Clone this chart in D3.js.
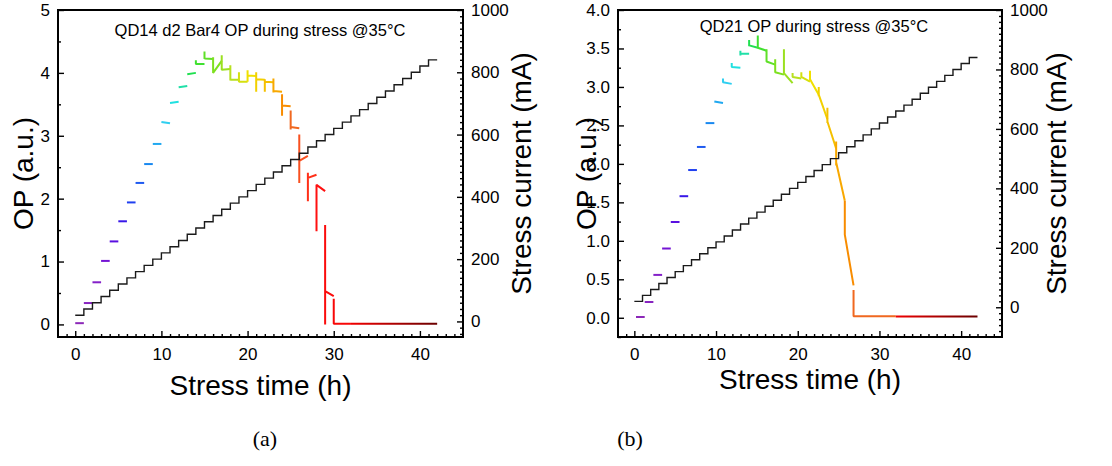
<!DOCTYPE html>
<html>
<head>
<meta charset="utf-8">
<script src="https://cdn.jsdelivr.net/npm/d3@7/dist/d3.min.js"></script>
<style>
  html, body { margin: 0; padding: 0; background: #fff; }
  svg text { font-family: "Liberation Sans", Arial, Helvetica, sans-serif; fill: #000; }
  svg text.caption { font-family: "Liberation Serif", "Times New Roman", serif; }
</style>
</head>
<body>
<svg id="fig" width="1112" height="466"></svg>
<script>
// Stress schedule: the drive current is raised by one step every hour
const stepHours   = [0,1,2,3,4,5,6,7,8,9,10,11,12,13,14,15,16,17,18,19,20,
                     21,22,23,24,25,26,27,28,29,30,31,32,33,34,35,36,37,38,39,40,41];
const stepCurrent = [20,40,60,80,100,120,140,160,180,200,220,240,260,280,300,320,340,360,380,400,420,
                     440,460,480,500,520,540,560,580,600,620,640,660,680,700,720,740,760,780,800,820,840];
const scheduleEnd = 42;

// (a) QD14 d2 Bar4 — optical power at each current step
// a step starts at hour h; optional jump spikeHi→spikeLo at the step, then opStart→opEnd until the next step
const hoursA   = [0,1,2,3,4,5,6,7,8,9,10,11,12,13,14,15,16,17,18,19,20,21,22,23,24,25,26,27,28,29,30];
const spikeHiA = [null,null,null,null,null,null,null,null,null,null,null,null,null,null,
                  4.20,4.34,4.25,4.28,4.12,4.01,4.04,4.01,3.90,3.91,3.66,3.40,3.02,2.41,2.22,1.58,0.41];
const spikeLoA = [null,null,null,null,null,null,null,null,null,null,null,null,null,null,
                  4.14,4.22,4.00,4.05,3.88,3.85,3.86,3.70,3.70,3.69,3.32,3.10,2.25,1.96,1.48,0.00,0.01];
const opStartA = [0.02,0.34,0.67,1.01,1.32,1.64,1.94,2.25,2.55,2.87,3.22,3.52,3.77,3.98,
                  4.14,4.23,4.00,4.05,3.89,3.86,3.96,3.90,3.86,3.71,3.48,3.14,2.60,2.33,2.22,0.53,0.01];
const opEndA   = [0.02,0.34,0.67,1.01,1.32,1.64,1.94,2.25,2.55,2.87,3.20,3.54,3.79,4.00,
                  4.14,4.22,4.19,4.06,3.89,3.86,3.95,3.89,3.85,3.70,3.47,3.12,2.68,2.38,2.12,0.45,0.01];
const tailHoursA = [32, 42];
const tailOpA    = [0.01, 0.01];

// (b) QD21 — optical power at each current step (logged start times, h)
const hoursB   = [0.2,1.27,2.33,3.4,4.46,5.53,6.59,7.66,8.72,9.79,10.85,11.92,12.98,14.05,15.11,
                  16.18,17.24,18.31,19.37,20.44,21.5,22.57,23.63,24.7,25.76,26.83];
const spikeHiB = [null,null,null,null,null,null,null,null,null,null,
                  3.11,3.31,3.47,3.61,3.67,3.49,3.36,3.49,3.18,3.19,3.21,3.00,2.73,2.29,1.52,0.36];
const spikeLoB = [null,null,null,null,null,null,null,null,null,null,
                  3.06,3.26,3.41,3.53,3.51,3.34,3.19,3.17,3.13,3.13,3.07,2.88,2.53,1.98,1.08,0.02];
const opStartB = [0.01,0.205,0.557,0.90,1.245,1.58,1.92,2.22,2.53,2.81,
                  3.06,3.26,3.43,3.54,3.51,3.33,3.19,3.18,3.13,3.13,3.10,2.90,2.55,2.02,1.08,0.02];
const opEndB   = [0.01,0.205,0.557,0.90,1.245,1.58,1.92,2.22,2.53,2.79,
                  3.04,3.25,3.43,3.51,3.47,3.29,3.16,3.05,3.11,3.07,2.90,2.58,2.20,1.52,0.42,0.02];
const tailHoursB = [32, 42];
const tailOpB    = [0.015, 0.015];

// Rainbow colour key by step number (one step per hour), shared by both panels
const keySteps   = [0, 2, 3, 4, 5, 6, 7, 8, 9, 10, 11, 12, 13, 14, 16, 18, 20, 22, 23, 24, 25, 26, 27, 28, 32, 42];
const keyColours = ["#8c28b8","#8420c8","#7414d4","#5a10e0","#3818e8","#2040f0","#1e5af0","#1888f0",
                    "#20a8f0","#30cff0","#20e0e0","#20e0a8","#20e050","#40e030","#7ee020","#b8e020",
                    "#f0e000","#f4c000","#f8a800","#f88c00","#f06820","#f85020","#ff3018","#ff1010",
                    "#f00000","#6a0000"];

// Axis ticks and labels
const timeTicks    = [0, 10, 20, 30, 40];
const opTicksA     = [0, 1, 2, 3, 4, 5];
const opTicksB     = [0.0, 0.5, 1.0, 1.5, 2.0, 2.5, 3.0, 3.5, 4.0];
const currentTicks = [0, 200, 400, 600, 800, 1000];

const colour = d3.scaleLinear().domain(keySteps).range(keyColours).interpolate(d3.interpolateRgb);
const svg = d3.select("#fig");
const defs = svg.append("defs");

function drawPanel(p) {
  const g = svg.append("g");
  const x  = d3.scaleLinear().domain([-2, 45]).range([p.left, p.right]);
  const y  = d3.scaleLinear().domain(p.opDomain).range([p.bottom, p.top]);
  const yc = d3.scaleLinear().domain(p.curDomain).range([p.bottom, p.top]);
  const line = d3.line().x(d => x(d[0])).y(d => y(d[1]));

  // optical power, one path per current step, coloured by step number
  const segs = p.hours.map((h, i) => {
    const tEnd = i < p.hours.length - 1 ? p.hours[i + 1] : p.tailHours[0];
    const pts = [];
    if (p.hi[i] != null) pts.push([h, p.hi[i]], [h, p.lo[i]]);
    pts.push([h, p.start[i]], [tEnd, p.end[i]]);
    return { step: i, pts };
  });
  g.append("g").selectAll("path").data(segs).join("path")
    .attr("d", d => line(d.pts))
    .attr("fill", "none")
    .attr("stroke", d => colour(d.step))
    .attr("stroke-width", 2)
    .attr("stroke-linejoin", "bevel");

  // long flat tail after failure, shaded along time
  const gradId = "tail-" + p.id;
  const grad = defs.append("linearGradient").attr("id", gradId)
    .attr("gradientUnits", "userSpaceOnUse")
    .attr("x1", x(p.tailHours[0])).attr("x2", x(p.tailHours[1]))
    .attr("y1", 0).attr("y2", 0);
  d3.range(0, 1.0001, 0.1).forEach(f => {
    grad.append("stop").attr("offset", f)
      .attr("stop-color", colour(p.tailHours[0] + f * (p.tailHours[1] - p.tailHours[0])));
  });
  g.append("path")
    .attr("d", line(p.tailHours.map((t, i) => [t, p.tailOp[i]])))
    .attr("fill", "none").attr("stroke", `url(#${gradId})`).attr("stroke-width", 2);

  // stress current staircase (right axis)
  const cur = stepHours.map((t, i) => [t, stepCurrent[i]]);
  cur.push([scheduleEnd, stepCurrent[stepCurrent.length - 1]]);
  g.append("path")
    .attr("d", d3.line().x(d => x(d[0])).y(d => yc(d[1])).curve(d3.curveStepAfter)(cur))
    .attr("fill", "none").attr("stroke", "#1a1a1a").attr("stroke-width", 1.4);

  // axes (ticks point into the plot)
  const styleAxis = s => {
    s.select(".domain").remove();
    s.attr("font-size", 17).attr("font-family", null);
    s.selectAll("line").attr("stroke", "#000").attr("stroke-width", 1.4);
  };
  const minorX = d3.range(-1, 45, 1).filter(v => v % 10 !== 0);
  g.append("g").attr("transform", `translate(0,${p.bottom})`)
    .call(d3.axisBottom(x).tickValues(minorX).tickSize(-3).tickFormat("")).call(styleAxis);
  g.append("g").attr("transform", `translate(0,${p.bottom})`)
    .call(d3.axisBottom(x).tickValues(timeTicks).tickSize(-6).tickPadding(11).tickFormat(d3.format("d")))
    .call(styleAxis);

  g.append("g").attr("transform", `translate(${p.left},0)`)
    .call(d3.axisLeft(y).tickValues(p.opMinor).tickSize(-3).tickFormat("")).call(styleAxis);
  g.append("g").attr("transform", `translate(${p.left},0)`)
    .call(d3.axisLeft(y).tickValues(p.opTicks).tickSize(-6).tickPadding(8).tickFormat(p.opFormat))
    .call(styleAxis);

  const minorC = d3.range(p.curDomain[0] + 10, 1000, 20).map(v => Math.round(v / 20) * 20)
    .filter(v => v > p.curDomain[0] && v % 200 !== 0);
  g.append("g").attr("transform", `translate(${p.right},0)`)
    .call(d3.axisRight(yc).tickValues(minorC).tickSize(-3).tickFormat("")).call(styleAxis);
  g.append("g").attr("transform", `translate(${p.right},0)`)
    .call(d3.axisRight(yc).tickValues(currentTicks).tickSize(-6).tickPadding(8).tickFormat(d3.format("d")))
    .call(styleAxis);

  // frame
  g.append("rect")
    .attr("x", p.left).attr("y", p.top)
    .attr("width", p.right - p.left).attr("height", p.bottom - p.top)
    .attr("fill", "none").attr("stroke", "#000").attr("stroke-width", 2);

  // titles
  g.append("text").attr("x", p.titleX).attr("y", p.titleY)
    .attr("text-anchor", "middle").attr("font-size", 16.5).text(p.title);
  g.append("text").attr("x", (p.left + p.right) / 2).attr("y", p.xLabelY)
    .attr("text-anchor", "middle").attr("font-size", 28).text("Stress time (h)");
  g.append("text").attr("transform", `translate(${p.yLabelX},${(p.top + p.bottom) / 2}) rotate(-90)`)
    .attr("text-anchor", "middle").attr("font-size", 28).text("OP (a.u.)");
  g.append("text").attr("transform", `translate(${p.rLabelX},${(p.top + p.bottom) / 2}) rotate(-90)`)
    .attr("text-anchor", "middle").attr("font-size", 28).text("Stress current (mA)");
  g.append("text").attr("class", "caption").attr("x", p.capX).attr("y", 446)
    .attr("text-anchor", "middle").attr("font-size", 22).text(p.caption);
}

drawPanel({
  id: "a", left: 58, right: 463, top: 10, bottom: 337,
  opDomain: [-0.2, 5], curDomain: [-50, 1000],
  opTicks: opTicksA, opMinor: [0.5, 1.5, 2.5, 3.5, 4.5], opFormat: d3.format("d"),
  hours: hoursA, hi: spikeHiA, lo: spikeLoA, start: opStartA, end: opEndA,
  tailHours: tailHoursA, tailOp: tailOpA,
  title: "QD14 d2 Bar4 OP during stress @35°C", titleX: 260, titleY: 36,
  xLabelY: 395, yLabelX: 33, rLabelX: 531, capX: 265, caption: "(a)"
});

drawPanel({
  id: "b", left: 618, right: 1002, top: 10, bottom: 337,
  opDomain: [-0.25, 4.0], curDomain: [-100, 1000],
  opTicks: opTicksB, opMinor: [-0.25, 0.25, 0.75, 1.25, 1.75, 2.25, 2.75, 3.25, 3.75], opFormat: d3.format(".1f"),
  hours: hoursB, hi: spikeHiB, lo: spikeLoB, start: opStartB, end: opEndB,
  tailHours: tailHoursB, tailOp: tailOpB,
  title: "QD21 OP during stress @35°C", titleX: 814, titleY: 32,
  xLabelY: 389, yLabelX: 596, rLabelX: 1066, capX: 630, caption: "(b)"
});
</script>
</body>
</html>
